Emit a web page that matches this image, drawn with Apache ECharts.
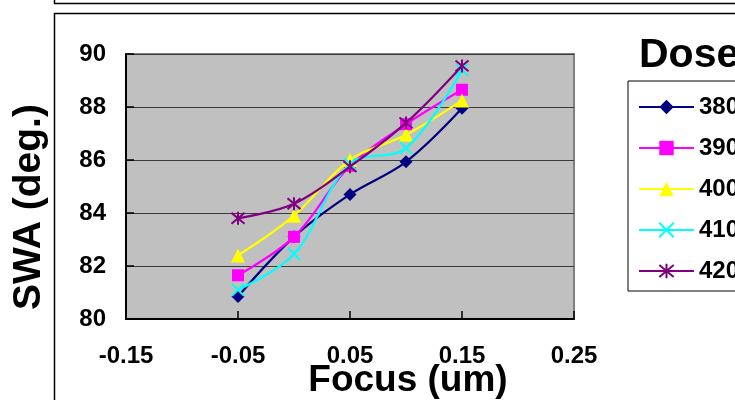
<!DOCTYPE html>
<html><head><meta charset="utf-8">
<script src="https://cdn.jsdelivr.net/npm/echarts@6/dist/echarts.min.js"></script>
<style>html,body{margin:0;padding:0;background:#fff}#c{width:735px;height:400px}</style>
</head><body><div id="c"></div>
<script>
// ---- data ----
const focus = [-0.05, 0, 0.05, 0.1, 0.15];
const doseNames = ['380', '390', '400', '410', '420'];
const dose380 = [80.85, 83.1, 84.7, 85.93, 87.95];
const dose390 = [81.65, 83.1, 85.78, 87.35, 88.65];
const dose400 = [82.4, 83.9, 86.0, 86.95, 88.25];
const dose410 = [81.1, 82.45, 85.85, 86.45, 89.4];
const dose420 = [83.8, 84.35, 85.75, 87.4, 89.55];
const xTickLabels = [-0.15, -0.05, 0.05, 0.15, 0.25];
const yTickLabels = [80, 82, 84, 86, 88, 90];

const FONT = '"Liberation Sans", Arial, sans-serif';
const seriesValues = [dose380, dose390, dose400, dose410, dose420];
const colors = ['#000080', '#FF00FF', '#FFFF00', '#00FFFF', '#800080'];
const symbols = ['diamond', 'rect', 'triangle',
  'path://M0 0L10 10M10 0L0 10',
  'path://M0 0L10 10M10 0L0 10M5 -1L5 11'];
const symbolSizes = [13, 12, 14, 12, 13];

const series = doseNames.map((name, i) => ({
  name: name,
  type: 'line',
  smooth: 0.35,
  data: focus.map((f, j) => [f, seriesValues[i][j]]),
  symbol: symbols[i],
  symbolSize: symbolSizes[i],
  showAllSymbol: true,
  lineStyle: { color: colors[i], width: 2.2 },
  itemStyle: { color: colors[i], borderColor: colors[i], borderWidth: i >= 3 ? 2 : 0 },
  emphasis: { disabled: true },
  z: 3 + i
}));

const chart = echarts.init(document.getElementById('c'), null, { renderer: 'canvas' });
chart.setOption({
  animation: false,
  backgroundColor: '#fff',
  textStyle: { fontFamily: FONT },
  grid: {
    left: 126, top: 54, width: 448, height: 265,
    show: true, backgroundColor: '#C0C0C0', borderColor: '#808080', borderWidth: 2
  },
  xAxis: {
    type: 'value', min: xTickLabels[0], max: xTickLabels[xTickLabels.length - 1],
    axisLine: { show: true, onZero: false, lineStyle: { color: '#000', width: 2 } },
    axisTick: { show: true, inside: true, length: 8, customValues: xTickLabels, lineStyle: { color: '#000', width: 1.5 } },
    axisLabel: { customValues: xTickLabels, margin: 25, fontSize: 24, fontWeight: 'bold', color: '#000', fontFamily: FONT,
      formatter: v => String(v) },
    splitLine: { show: false }
  },
  yAxis: {
    type: 'value', min: yTickLabels[0], max: yTickLabels[yTickLabels.length - 1], interval: 2,
    axisLine: { show: true, onZero: false, lineStyle: { color: '#000', width: 2 } },
    axisTick: { show: true, inside: true, length: 8, lineStyle: { color: '#000', width: 1.5 } },
    axisLabel: { margin: 20, fontSize: 24, fontWeight: 'bold', color: '#000', fontFamily: FONT },
    splitLine: { show: true, lineStyle: { color: '#3a3a3a', width: 1 } }
  },
  legend: {
    orient: 'vertical', left: 628, top: 81,
    padding: [14, 60, 8, 10],
    itemGap: 17, itemWidth: 55, itemHeight: 18,
    borderColor: '#000', borderWidth: 1, backgroundColor: '#fff',
    data: doseNames,
    textStyle: { fontSize: 24, fontWeight: 'bold', color: '#000', fontFamily: FONT, lineHeight: 20, padding: [0,0,0,0] },
    selectedMode: false
  },
  graphic: [
    { type: 'rect', z: -10, shape: { x: 54.5, y: -60, width: 800, height: 63.5 }, style: { fill: '#fff', stroke: '#000', lineWidth: 1.5 } },
    { type: 'text', z: -9, x: 466, y: -1, style: { text: '(um)', font: 'bold 30px ' + FONT, fill: '#000', align: 'center', verticalAlign: 'bottom' } },
    { type: 'rect', z: -10, shape: { x: 54.5, y: 13.5, width: 800, height: 500 }, style: { fill: '#fff', stroke: '#000', lineWidth: 1.5 } },
    { type: 'text', x: 639, y: 56, style: { text: 'Dose', font: 'bold 41px ' + FONT, fill: '#000', align: 'left', verticalAlign: 'middle' } },
    { type: 'text', x: 29, y: 207, rotation: Math.PI / 2, style: { text: 'SWA (deg.)', font: 'bold 39px ' + FONT, fill: '#000', align: 'center', verticalAlign: 'middle' } },
    { type: 'text', x: 408, y: 381, style: { text: 'Focus (um)', font: 'bold 37px ' + FONT, fill: '#000', align: 'center', verticalAlign: 'middle' } }
  ],
  series: series
});
</script>
</body></html>
